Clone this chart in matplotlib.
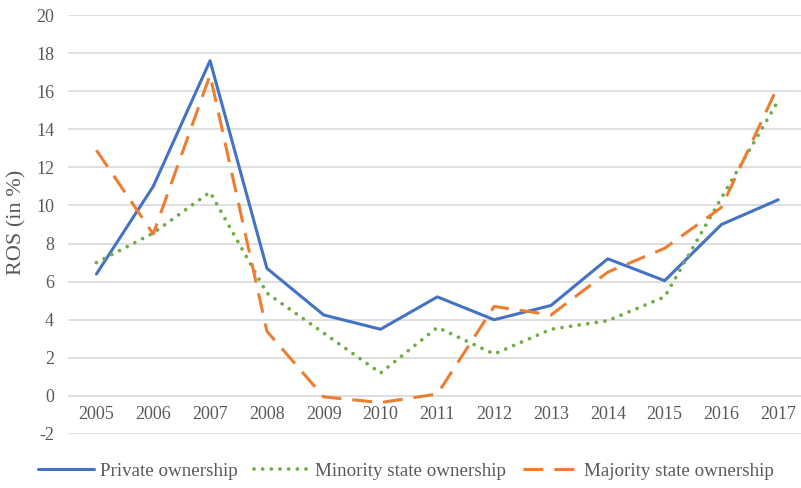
import matplotlib
matplotlib.use("Agg")
import matplotlib.pyplot as plt

years = ["2005", "2006", "2007", "2008", "2009", "2010", "2011", "2012",
         "2013", "2014", "2015", "2016", "2017"]
private = [6.4, 11.0, 17.6, 6.7, 4.25, 3.5, 5.2, 4.0, 4.75, 7.2, 6.05, 9.0, 10.3]
minority = [7.0, 8.55, 10.7, 5.4, 3.3, 1.2, 3.6, 2.2, 3.5, 3.95, 5.2, 10.4, 15.5]
majority = [12.9, 8.5, 16.85, 3.4, -0.05, -0.35, 0.1, 4.7, 4.25, 6.5, 7.75, 9.9, 16.3]
series_names = ["Private ownership", "Minority state ownership", "Majority state ownership"]
y_ticks = list(range(-2, 21, 2))

plt.rcParams['font.family'] = ['Liberation Serif', 'DejaVu Serif']
text_color = "#595959"

fig = plt.figure(figsize=(8.01, 4.88), dpi=100)
ax = fig.add_axes([68 / 801, (488 - 434) / 488, 1 - 68 / 801, (434 - 15) / 488])

x = list(range(len(years)))
ax.plot(x, private, color="#4472C4", lw=2.2, solid_capstyle="round",
        solid_joinstyle="round", label=series_names[0], zorder=3)
ax.plot(x, minority, color="#70AD47", lw=2.7, linestyle=(0, (0.01, 2.3)),
        dash_capstyle="round", label=series_names[1], zorder=3)
ax.plot(x, majority, color="#ED7D31", lw=2.2, linestyle=(0, (6.5, 3.6)),
        dash_capstyle="butt", label=series_names[2], zorder=3)

ax.set_xlim(-0.5, 12.4)
ax.set_ylim(-2, 20)
ax.set_yticks(y_ticks)
ax.set_yticklabels([str(t) for t in y_ticks])
ax.set_xticks(x)
ax.set_xticklabels(years)
ax.grid(axis="y", color="#d9d9d9", lw=1.2)
ax.set_axisbelow(True)
for s in ax.spines.values():
    s.set_visible(False)
ax.spines["bottom"].set_position(("data", 0))
ax.tick_params(axis="both", length=0, labelsize=13, colors=text_color)
ax.tick_params(axis="x", pad=7)
ax.tick_params(axis="y", pad=10)
ax.set_ylabel("ROS (in %)", fontsize=16, color=text_color)
ax.yaxis.set_label_coords(-0.057, 0.506)

fig.legend(loc="center", bbox_to_anchor=(0.507, 1 - 471 / 488), ncol=3, frameon=False,
           fontsize=13.7, handlelength=2.95, columnspacing=0.85, handletextpad=0.3,
           labelcolor=text_color, borderpad=0, borderaxespad=0)

fig.savefig("out.png", dpi=100)
